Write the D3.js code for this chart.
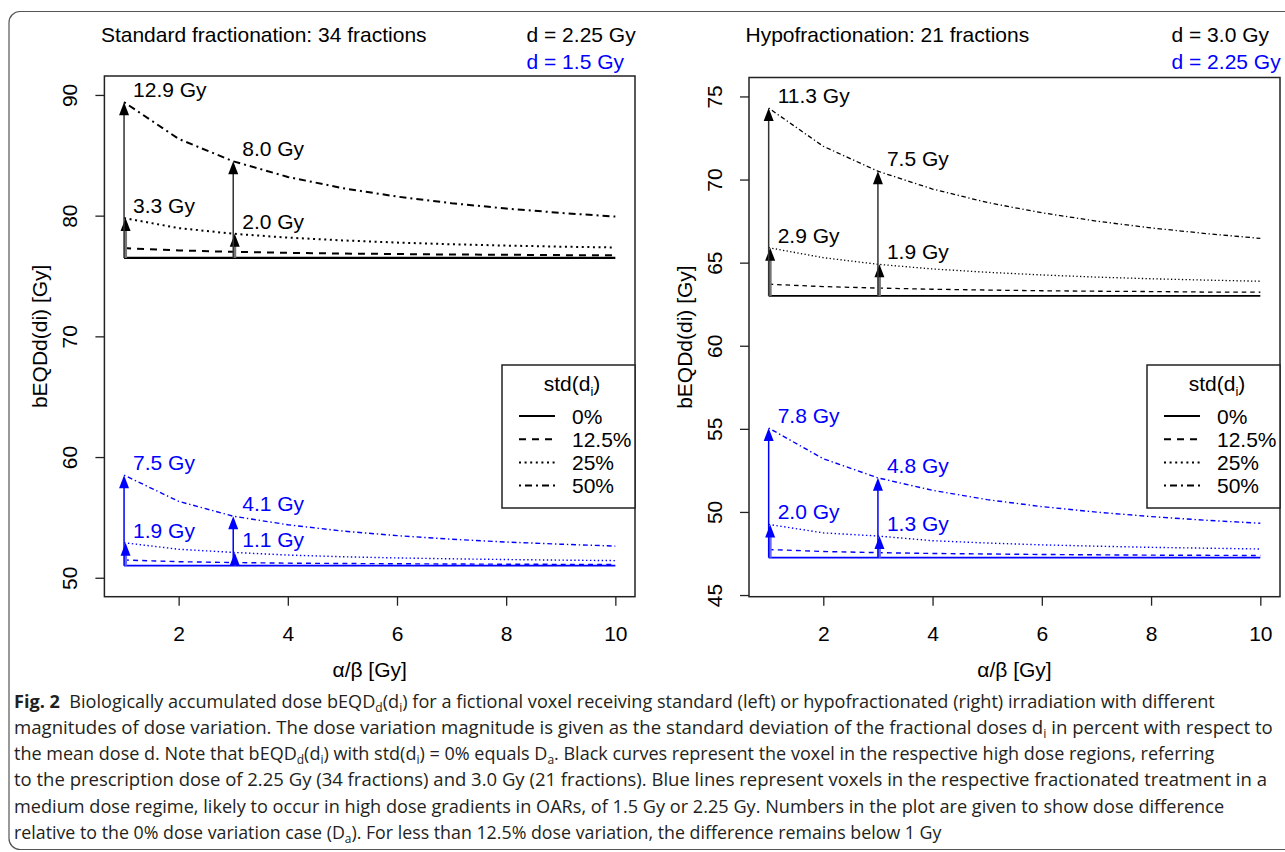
<!DOCTYPE html>
<html>
<head>
<meta charset="utf-8">
<script src="https://cdn.jsdelivr.net/npm/d3@7"></script>
<style>
  body { margin: 0; background: #fff; }
  svg { display: block; }
  .plot text { font-family: "Liberation Sans", Arial, sans-serif; font-size: 21px; fill: #000; }
  .caption text { font-family: "Open Sans", sans-serif; font-size: 18px; fill: #231f20; white-space: pre; }
</style>
</head>
<body>
<svg id="fig" width="1285" height="852"></svg>
<script>
// alpha/beta values the curves are sampled at
const alphaBeta = [1, 2, 3, 4, 5, 6, 7, 8, 9, 10];
const xTicks = [2, 4, 6, 8, 10];
const stdLabels = ["0%", "12.5%", "25%", "50%"];
const arrowAlphaBeta = [1, 3];

// Standard fractionation, 34 fractions
const std225_0   = [76.5, 76.5, 76.5, 76.5, 76.5, 76.5, 76.5, 76.5, 76.5, 76.5];
const std225_125 = [77.31, 77.12, 77.0, 76.92, 76.86, 76.82, 76.78, 76.76, 76.73, 76.71];
const std225_25  = [79.8, 78.97, 78.5, 78.18, 77.95, 77.77, 77.63, 77.52, 77.43, 77.36];
const std225_50  = [89.4, 86.36, 84.5, 83.21, 82.28, 81.58, 81.03, 80.59, 80.23, 79.92];
const std15_0    = [51, 51, 51, 51, 51, 51, 51, 51, 51, 51];
const std15_125  = [51.47, 51.33, 51.26, 51.21, 51.18, 51.16, 51.14, 51.12, 51.11, 51.10];
const std15_25   = [52.9, 52.36, 52.1, 51.88, 51.74, 51.64, 51.57, 51.51, 51.46, 51.42];
const std15_50   = [58.5, 56.33, 55.1, 54.39, 53.87, 53.49, 53.19, 52.96, 52.78, 52.62];
const stdYTicks  = [50, 60, 70, 80, 90];
const stdYRange  = [48.43, 91.57];
const stdLabelsHigh = { "25": ["3.3 Gy", "2.0 Gy"], "50": ["12.9 Gy", "8.0 Gy"] };
const stdLabelsLow  = { "25": ["1.9 Gy", "1.1 Gy"], "50": ["7.5 Gy", "4.1 Gy"] };

// Hypofractionation, 21 fractions
const hypo30_0    = [63, 63, 63, 63, 63, 63, 63, 63, 63, 63];
const hypo30_125  = [63.70, 63.56, 63.47, 63.40, 63.35, 63.31, 63.28, 63.26, 63.23, 63.22];
const hypo30_25   = [65.9, 65.3, 64.9, 64.62, 64.42, 64.26, 64.13, 64.03, 63.95, 63.88];
const hypo30_50   = [74.3, 72.0, 70.5, 69.43, 68.62, 68.0, 67.5, 67.09, 66.75, 66.46];
const hypo225_0   = [47.25, 47.25, 47.25, 47.25, 47.25, 47.25, 47.25, 47.25, 47.25, 47.25];
const hypo225_125 = [47.74, 47.62, 47.55, 47.5, 47.47, 47.44, 47.42, 47.40, 47.39, 47.38];
const hypo225_25  = [49.25, 48.74, 48.55, 48.27, 48.13, 48.02, 47.94, 47.87, 47.82, 47.77];
const hypo225_50  = [55.05, 53.2, 52.05, 51.3, 50.74, 50.32, 49.99, 49.72, 49.5, 49.32];
const hypoYTicks  = [45, 50, 55, 60, 65, 70, 75];
const hypoYRange  = [44.9, 76.14];
const hypoLabelsHigh = { "25": ["2.9 Gy", "1.9 Gy"], "50": ["11.3 Gy", "7.5 Gy"] };
const hypoLabelsLow  = { "25": ["2.0 Gy", "1.3 Gy"], "50": ["7.8 Gy", "4.8 Gy"] };

const captionLines = [
  [["Fig. 2", "b"], ["  Biologically accumulated dose bEQD"], ["d", "s"], ["(d"], ["i", "s"], [") for a fictional voxel receiving standard (left) or hypofractionated (right) irradiation with different"]],
  [["magnitudes of dose variation. The dose variation magnitude is given as the standard deviation of the fractional doses d"], ["i", "s"], [" in percent with respect to"]],
  [["the mean dose d. Note that bEQD"], ["d", "s"], ["(d"], ["i", "s"], [") with std(d"], ["i", "s"], [") = 0% equals D"], ["a", "s"], [". Black curves represent the voxel in the respective high dose regions, referring"]],
  [["to the prescription dose of 2.25 Gy (34 fractions) and 3.0 Gy (21 fractions). Blue lines represent voxels in the respective fractionated treatment in a"]],
  [["medium dose regime, likely to occur in high dose gradients in OARs, of 1.5 Gy or 2.25 Gy. Numbers in the plot are given to show dose difference"]],
  [["relative to the 0% dose variation case (D"], ["a", "s"], ["). For less than 12.5% dose variation, the difference remains below 1 Gy"]]
];

const panels = [
  {
    title: "Standard fractionation: 34 fractions", doseHigh: "d = 2.25 Gy", doseLow: "d = 1.5 Gy",
    high: [std225_0, std225_125, std225_25, std225_50], low: [std15_0, std15_125, std15_25, std15_50],
    labelsHigh: stdLabelsHigh, labelsLow: stdLabelsLow,
    yTicks: stdYTicks, yRange: stdYRange,
    box: { x0: 104.4, x1: 635, y0: 76, y1: 596.7 }, widthHigh: 2, widthLow: 1.4
  },
  {
    title: "Hypofractionation: 21 fractions", doseHigh: "d = 3.0 Gy", doseLow: "d = 2.25 Gy",
    high: [hypo30_0, hypo30_125, hypo30_25, hypo30_50], low: [hypo225_0, hypo225_125, hypo225_25, hypo225_50],
    labelsHigh: hypoLabelsHigh, labelsLow: hypoLabelsLow,
    yTicks: hypoYTicks, yRange: hypoYRange,
    box: { x0: 749, x1: 1280, y0: 77.5, y1: 596.7 }, widthHigh: 1.3, widthLow: 1.4
  }
];

const BLUE = "#0000ff";
const dashFor = (i, w) => {
  const base = [null, [3.5, 3], [1, 1.8], [1, 2, 3.5, 2]][i];
  return base ? base.map(v => v * w).join(",") : null;
};

const svg = d3.select("#fig");

// outer figure frame
svg.append("rect")
  .attr("x", 9).attr("y", 11.5).attr("width", 1300).attr("height", 838)
  .attr("rx", 11).attr("fill", "none").attr("stroke", "#555").attr("stroke-width", 1.2);

function drawArrow(g, x, yBase, yTip, color, width, headColor) {
  g.append("line")
    .attr("x1", x).attr("x2", x).attr("y1", yBase).attr("y2", yTip + 8)
    .attr("stroke", color).attr("stroke-width", width);
  g.append("path")
    .attr("d", `M${x},${yTip} L${x - 5},${yTip + 13} L${x + 5},${yTip + 13} Z`)
    .attr("fill", headColor);
}

panels.forEach(p => {
  const g = svg.append("g").attr("class", "plot");
  const b = p.box;

  const x = d3.scaleLinear().domain([0.64, 10.36]).range([b.x0, b.x1]);
  const y = d3.scaleLinear().domain(p.yRange).range([b.y1, b.y0]);

  // titles
  g.append("text").attr("x", b.x0 - 3.5).attr("y", 42).text(p.title);
  g.append("text").attr("x", b.x1 - 108.5).attr("y", 42).text(p.doseHigh);
  g.append("text").attr("x", b.x1 - 108.5).attr("y", 68.5).style("fill", BLUE).text(p.doseLow);

  // axes
  const xAxis = g.append("g")
    .attr("transform", `translate(0,${b.y1})`)
    .call(d3.axisBottom(x).tickValues(xTicks).tickSize(9).tickSizeOuter(0).tickPadding(20));
  xAxis.select(".domain").remove();
  xAxis.selectAll("line").attr("stroke", "#222").attr("stroke-width", 1.3);
  xAxis.selectAll("text").attr("fill", "#000").style("font-size", "21px")
    .style("font-family", '"Liberation Sans", Arial, sans-serif');

  const yAxis = g.append("g")
    .attr("transform", `translate(${b.x0},0)`)
    .call(d3.axisLeft(y).tickValues(p.yTicks).tickSize(9).tickSizeOuter(0));
  yAxis.select(".domain").remove();
  yAxis.selectAll("line").attr("stroke", "#222").attr("stroke-width", 1.3);
  yAxis.selectAll("text")
    .attr("x", null).attr("dy", "0.36em").attr("fill", "#000")
    .attr("text-anchor", "middle")
    .attr("transform", "translate(-35,0) rotate(-90)")
    .style("font-size", "21px")
    .style("font-family", '"Liberation Sans", Arial, sans-serif');

  g.append("text")
    .attr("text-anchor", "middle")
    .attr("transform", `translate(${b.x0 - 65},${(b.y0 + b.y1) / 2}) rotate(-90)`)
    .attr("dy", "0.36em")
    .text("bEQDd(di) [Gy]");
  g.append("text")
    .attr("text-anchor", "middle")
    .attr("x", (b.x0 + b.x1) / 2).attr("y", 677)
    .text("α/β [Gy]");

  // curves
  const line = d3.line().x((d, i) => x(alphaBeta[i])).y(d => y(d));
  [[p.high, "#000", p.widthHigh], [p.low, BLUE, p.widthLow]].forEach(([series, color, w]) => {
    series.forEach((vals, i) => {
      g.append("path")
        .datum(vals)
        .attr("d", line)
        .attr("fill", "none")
        .attr("stroke", color)
        .attr("stroke-width", i === 0 ? w + 0.3 : w)
        .attr("stroke-dasharray", dashFor(i, w));
    });
  });

  // difference arrows and labels
  [[p.high, p.labelsHigh, "#000"], [p.low, p.labelsLow, BLUE]].forEach(([series, labels, color]) => {
    arrowAlphaBeta.forEach((ab, k) => {
      const idx = alphaBeta.indexOf(ab);
      const xa = x(ab);
      const base = y(series[0][idx]);
      const tip50 = y(series[3][idx]);
      const tip25 = y(series[2][idx]);
      drawArrow(g, xa + 1.5, base, tip25, color === "#000" ? "#777" : "#6a6aff", 3, color);
      drawArrow(g, xa, base, tip50, color === "#000" ? "#333" : color, 1.5, color);
      g.append("text").attr("x", xa + 9).attr("y", tip50 - 5).style("fill", color).text(labels["50"][k]);
      g.append("text").attr("x", xa + 9).attr("y", tip25 - 5).style("fill", color).text(labels["25"][k]);
    });
  });

  // plot box
  g.append("rect")
    .attr("x", b.x0).attr("y", b.y0).attr("width", b.x1 - b.x0).attr("height", b.y1 - b.y0)
    .attr("fill", "none").attr("stroke", "#222").attr("stroke-width", 1.5);

  // legend
  const lx = b.x1 - 133, ly = 365;
  const leg = g.append("g");
  leg.append("rect").attr("x", lx).attr("y", ly).attr("width", 133).attr("height", 143)
    .attr("fill", "#fff").attr("stroke", "#222").attr("stroke-width", 1.5);
  const lt = leg.append("text").attr("x", lx + 70).attr("y", 391).attr("text-anchor", "middle");
  lt.append("tspan").text("std(d");
  lt.append("tspan").attr("dy", 5).style("font-size", "13px").text("i");
  lt.append("tspan").attr("dy", -5).text(")");
  stdLabels.forEach((lab, i) => {
    const ry = 416 + i * 23.2;
    leg.append("line").attr("x1", lx + 17).attr("x2", lx + 53).attr("y1", ry).attr("y2", ry)
      .attr("stroke", "#000").attr("stroke-width", 2).attr("stroke-dasharray", dashFor(i, 2));
    leg.append("text").attr("x", lx + 70).attr("y", ry).attr("dy", "0.36em").text(lab);
  });
});

// caption
const capBase = [708, 734, 760, 786, 813, 839];
const capWidths = [1202, 1260, 1201, 1253, 1211, 928];
const cap = svg.append("g").attr("class", "caption");
captionLines.forEach((segs, li) => {
  const t = cap.append("text");
  let shifted = false;
  segs.forEach(([txt, kind]) => {
    const ts = t.append("tspan").text(txt);
    if (kind === "b") ts.style("font-weight", 700);
    if (kind === "s") {
      ts.style("font-size", "12px").attr("dy", 4);
      shifted = true;
    } else if (shifted) {
      ts.attr("dy", -4);
      shifted = false;
    }
  });
  const w = t.node().getComputedTextLength();
  t.attr("transform", `translate(14,${capBase[li]}) scale(${capWidths[li] / w},1)`);
});
</script>
</body>
</html>
